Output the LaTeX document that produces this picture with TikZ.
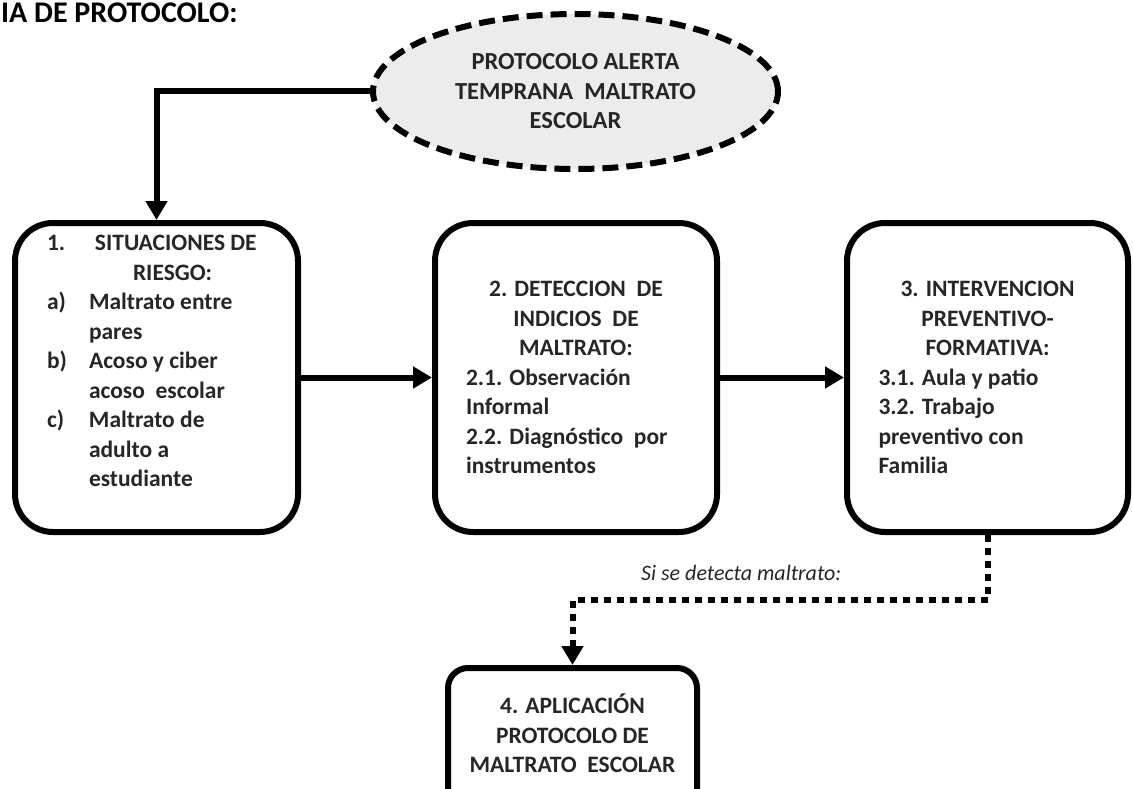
\documentclass[tikz,border=0pt]{standalone}
\usepackage{fontspec}
\setmainfont{Carlito}
\usetikzlibrary{arrows.meta,shapes.geometric}
\definecolor{txt}{RGB}{38,38,38}
\definecolor{ellfill}{RGB}{236,236,236}
\begin{document}
\begin{tikzpicture}[x=1pt,y=-1pt,
  boxfont/.style={font=\bfseries\fontsize{23.5}{29.5}\selectfont},
  box/.style={draw=black, line width=6pt, rounded corners=38pt, fill=white,
    inner sep=0pt, text=txt, boxfont},
  conn/.style={line width=6pt, -{Triangle[width=21pt,length=19pt]}},
  dotconn/.style={line width=6pt, dash pattern=on 7pt off 6pt,
    -{Triangle[width=21pt,length=19pt]}}]
\useasboundingbox (0,0) rectangle (1133,789);
\clip (0,0) rectangle (1133,789);

\node[anchor=base west, inner sep=0pt, text=black,
  font=\bfseries\fontsize{30}{34}\selectfont] (title) at (1,23) {IA DE PROTOCOLO:};

\node[ellipse, draw=black, line width=6pt, dash pattern=on 16pt off 8pt,
  fill=ellfill, minimum width=405pt, minimum height=155pt, inner sep=0pt,
  align=center, text=txt, font=\bfseries\fontsize{24.5}{29.5}\selectfont]
  (ell) at (575.5,91.5) {PROTOCOLO ALERTA\\TEMPRANA\ \ MALTRATO\\ESCOLAR};

\node[box, text width=219pt, align=flush left, minimum width=283pt, minimum height=309pt]
  (b1) at (156.5,377.5) {%
  \makebox[48pt][l]{1.}SITUACIONES DE\\
  \hspace*{86pt}RIESGO:\\
  \makebox[42pt][l]{a)}Maltrato entre\\
  \hspace*{42pt}pares\\
  \makebox[42pt][l]{b)}Acoso y ciber\\
  \hspace*{42pt}acoso\ \ escolar\\
  \makebox[42pt][l]{c)}Maltrato de\\
  \hspace*{42pt}adulto a\\
  \hspace*{42pt}estudiante\\[3.5pt]\mbox{}};

\node[box, text width=220pt, align=flush left, minimum width=282pt, minimum height=309pt]
  (b2) at (576,377.5) {%
  \makebox[\linewidth]{2. DETECCION\ \ DE}\\
  \makebox[\linewidth]{INDICIOS\ \ DE}\\
  \makebox[\linewidth]{MALTRATO:}\\
  2.1. Observación\\
  Informal\\
  2.2. Diagnóstico\ \ por\\
  instrumentos};

\node[box, text width=218pt, align=flush left, minimum width=281pt, minimum height=309pt]
  (b3) at (987.5,377.5) {%
  \makebox[\linewidth]{3. INTERVENCION}\\
  \makebox[\linewidth]{PREVENTIVO-}\\
  \makebox[\linewidth]{FORMATIVA:}\\
  3.1. Aula y patio\\
  3.2. Trabajo\\
  preventivo con\\
  Familia};

\node[box, rounded corners=20pt, align=center, minimum width=249pt, minimum height=160pt]
  (b4) at (572.5,748) {4. APLICACIÓN\\PROTOCOLO DE\\MALTRATO\ \ ESCOLAR\\ \mbox{}};

\node[anchor=base west, inner sep=0pt, text=txt,
  font=\itshape\fontsize{22}{26}\selectfont] (lbl) at (641,580) {Si se detecta maltrato:};

\coordinate (mid) at (780,600);

\draw[conn] (ell.west) -| (b1.north);
\draw[conn] (b1.east) -- (b2.west);
\draw[conn] (b2.east) -- (b3.west);
\draw[dotconn] (b3.south) |- (mid) -| (b4.north);
\end{tikzpicture}
\end{document}
